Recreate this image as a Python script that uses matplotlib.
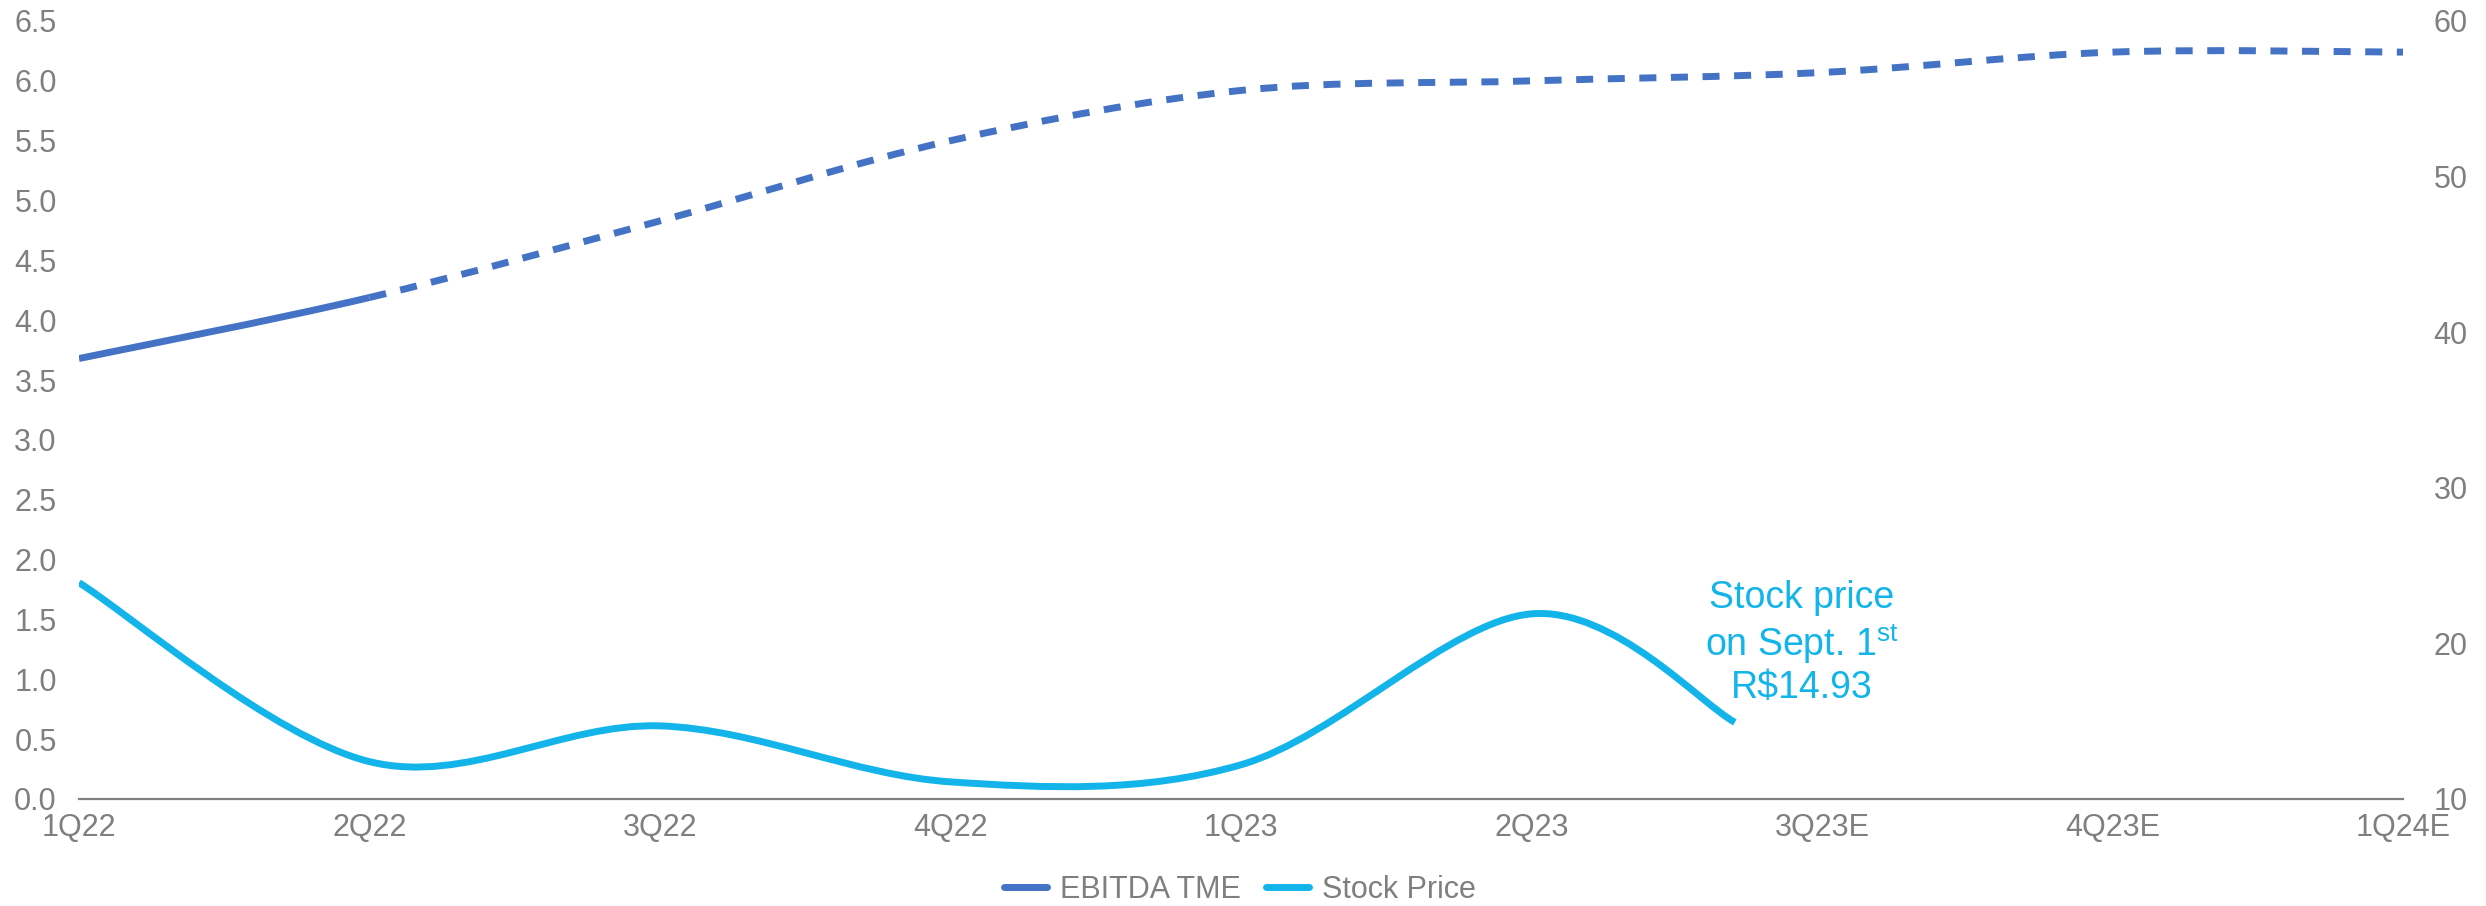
import numpy as np
import matplotlib
matplotlib.use("Agg")
import matplotlib.pyplot as plt
from matplotlib.path import Path
from matplotlib.patches import PathPatch
from matplotlib.lines import Line2D

plt.rcParams['font.family'] = ['Liberation Sans', 'DejaVu Sans']
plt.rcParams['mathtext.fontset'] = 'custom'
plt.rcParams['mathtext.rm'] = 'Liberation Sans'

quarters = ['1Q22', '2Q22', '3Q22', '4Q22', '1Q23', '2Q23', '3Q23E', '4Q23E', '1Q24E']
ebitda = [3.68, 4.19, 4.83, 5.50, 5.92, 6.00, 6.07, 6.24, 6.24]
n_actual = 2  # first two quarters are reported, the rest are estimates

stock_x = [0, 1, 2, 3, 4, 5, 5.7]  # last point = Sept. 1st
stock = [23.9, 12.4, 14.7, 11.1, 12.2, 21.9, 14.93]

blue_dark = '#4472C4'
blue_light = '#12B4EA'
gray = '#7F7F7F'


def smooth_segments(xs, ys):
    # cubic bezier pieces through the points (catmull-rom style, like excel smoothing)
    p = np.column_stack([xs, ys]).astype(float)
    segs = []
    for i in range(len(p) - 1):
        p0 = p[max(i - 1, 0)]
        p3 = p[min(i + 2, len(p) - 1)]
        c1 = p[i] + (p[i + 1] - p0) / 6
        c2 = p[i + 1] - (p3 - p[i]) / 6
        segs.append([p[i], c1, c2, p[i + 1]])
    return segs


def make_path(segs):
    verts = [segs[0][0]]
    codes = [Path.MOVETO]
    for s in segs:
        verts += s[1:]
        codes += [Path.CURVE4] * 3
    return Path(verts, codes)


fig = plt.figure(figsize=(24.86, 9.06), dpi=100)
ax = fig.add_axes([79 / 2486, 1 - 799 / 906, (2403 - 79) / 2486, (799 - 21) / 906])
ax2 = ax.twinx()

x = np.arange(len(quarters))
segs = smooth_segments(x, ebitda)
ax.add_patch(PathPatch(make_path(segs[:n_actual - 1]), fill=False, ec=blue_dark,
                       lw=5, capstyle='butt'))
ax.add_patch(PathPatch(make_path(segs[n_actual - 1:]), fill=False, ec=blue_dark,
                       lw=5, linestyle=(0, (2.45, 2.1)), capstyle='butt'))

ax2.add_patch(PathPatch(make_path(smooth_segments(stock_x, stock)), fill=False,
                        ec=blue_light, lw=5, capstyle='butt'))

ax2.text(5.93, 16.5, 'Stock price\non Sept. 1$^{\\rm st}$\nR\\$%.2f' % stock[-1],
         color=blue_light, fontsize=27, ha='center', va='baseline', linespacing=1.15)

ax.set_xlim(0, len(quarters) - 1)
ax.set_ylim(0, 6.5)
ax2.set_ylim(10, 60)
ax.set_xticks(x)
ax.set_xticklabels(quarters)
ax.set_yticks(np.arange(0, 6.51, 0.5))
ax.set_yticklabels(['%.1f' % v for v in np.arange(0, 6.51, 0.5)])
ax2.set_yticks(np.arange(10, 61, 10))

for a in (ax, ax2):
    for side in ('top', 'left', 'right', 'bottom'):
        a.spines[side].set_visible(False)
ax.spines['bottom'].set_visible(True)
ax.spines['bottom'].set_color('#808080')
ax.spines['bottom'].set_linewidth(1.6)

ax.tick_params(axis='x', length=0, pad=10, labelsize=22, labelcolor=gray)
ax.tick_params(axis='y', length=0, pad=16, labelsize=22, labelcolor=gray)
ax2.tick_params(axis='y', length=0, pad=22, labelsize=22, labelcolor=gray)

handles = [Line2D([], [], color=blue_dark, lw=5, solid_capstyle='round'),
           Line2D([], [], color=blue_light, lw=5, solid_capstyle='round')]
fig.legend(handles, ['EBITDA TME', 'Stock Price'], loc='center',
           bbox_to_anchor=(1240 / 2486, 1 - 890 / 906), ncol=2, frameon=False,
           fontsize=22, labelcolor=gray, handlelength=1.4, handletextpad=0.45,
           columnspacing=0.8)

fig.savefig('out.png', dpi=100)
